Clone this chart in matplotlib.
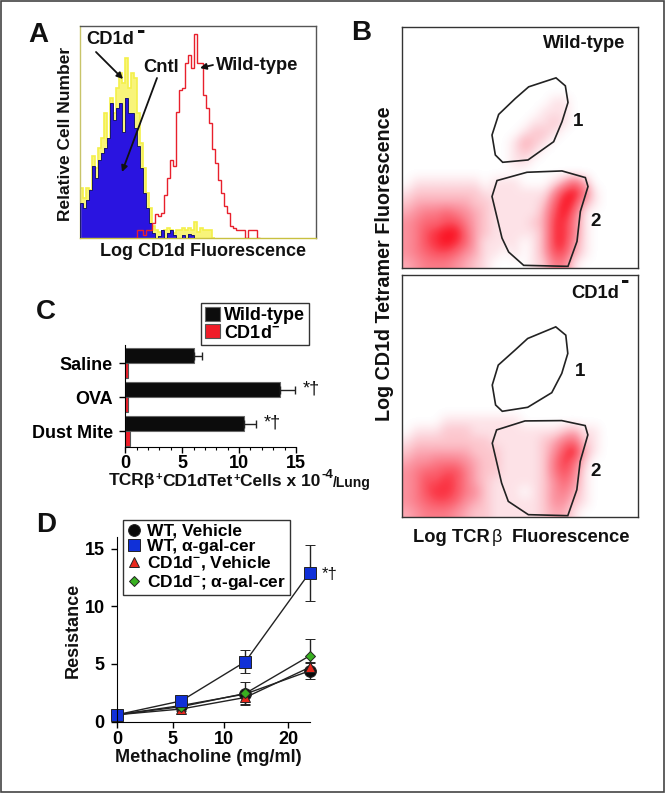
import numpy as np
import matplotlib
matplotlib.use('Agg')
import matplotlib.pyplot as plt
from matplotlib.colors import LinearSegmentedColormap
from matplotlib.lines import Line2D
from matplotlib.patches import Polygon, Rectangle

plt.rcParams['font.family'] = ['Liberation Sans', 'DejaVu Sans']
plt.rcParams['font.weight'] = 'bold'
plt.rcParams['mathtext.fontset'] = 'custom'
plt.rcParams['mathtext.rm'] = 'Liberation Sans:bold'
plt.rcParams['mathtext.default'] = 'rm'

W, H = 665, 794

#----------------------------------------------------------------------
#   Data
#----------------------------------------------------------------------

# panel A, counts per 3-channel bin
hist_yellow = [50, 40, 50, 48, 82, 70, 90, 100, 125, 95, 140, 125, 150, 165, 155, 180, 150, 165, 160, 125,
               95, 70, 45, 30, 12, 8, 6, 6, 8, 10, 8, 5, 8, 8, 10, 8, 10, 8, 16, 6, 10, 8, 8, 8, 0]
hist_blue = [35, 30, 38, 48, 72, 60, 78, 85, 90, 100, 135, 118, 130, 135, 106, 140, 125, 125, 110, 92,
             70, 45, 30, 15, 5, 0, 2, 8, 0, 5, 8, 3, 0, 0, 3, 0, 4, 3, 0]
hist_red = [0, 8, 8, 3, 8, 8, 15, 24, 22, 25, 43, 60, 78, 72, 126, 148, 150, 175, 183, 170, 204, 175, 175,
            143, 130, 115, 89, 75, 58, 45, 32, 25, 12, 10, 8, 8, 8, 0, 8, 8, 8, 0]
hist_red_start = 54

# panel B, dot density (0-9) on a 24 x 24 grid, top row first
dens_wt = ["000000000000000000000000",
           "000000000000000000000000",
           "000000000000000000000000",
           "000000000000000000000000",
           "000000000000000000000000",
           "000000000000000000000000",
           "000000000000000000000000",
           "000000000000000110000000",
           "000000000000001110000000",
           "000000000000011210000000",
           "000000000000122100000000",
           "000000000001321000000000",
           "000000000001210000000000",
           "000000000001100000000000",
           "000000000000000000000000",
           "011111110111000136300000",
           "122222221111111489610000",
           "233333322111112698310000",
           "345565432111113796100000",
           "456677532111123885100000",
           "457899632111113885100000",
           "457898631111013884100000",
           "456776431101013773100000",
           "345554321000012551000000"]
dens_ko = ["000000000000000000000000",
           "000000000000000000000000",
           "000000000000000000000000",
           "000000000000000000000000",
           "000000000000000000000000",
           "000000000000000000000000",
           "000000000000000000000000",
           "000000000000000000000000",
           "000000000000000000000000",
           "000000000000000000000000",
           "000000000000000000000000",
           "000000000000000000000000",
           "000000000000000000000000",
           "000000000000000000000000",
           "000011111111000000000000",
           "011122211111111123110000",
           "122222222111112356210000",
           "233333322211112479310000",
           "344555432211112586200000",
           "456677532211112575100000",
           "457787532111112464100000",
           "457887542111012453100000",
           "456776432111112442100000",
           "345554322111112331000000"]

# panel B gates
gate1_wt = [(632, 188), (660, 212), (668, 262), (650, 320), (625, 380), (548, 435),
            (472, 442), (450, 420), (440, 360), (460, 298), (510, 250), (550, 215)]
gate2_wt = [(455, 497), (545, 472), (650, 468), (720, 488), (728, 515), (705, 590),
            (695, 680), (668, 755), (535, 752), (490, 712), (470, 670), (440, 545)]
gate1_ko = [(632, 170), (662, 195), (668, 250), (650, 310), (620, 368), (548, 412),
            (472, 424), (452, 405), (442, 345), (460, 285), (510, 240), (548, 205)]
gate2_ko = [(455, 480), (540, 453), (650, 452), (720, 467), (728, 495), (705, 575),
            (695, 660), (668, 738), (550, 735), (490, 695), (470, 640), (442, 520)]

# panel C
treatments = ['Saline', 'OVA', 'Dust Mite']
cells_wt = [6.0, 13.6, 10.4]
cells_wt_err = [0.7, 1.3, 1.1]
cells_ko = [0.2, 0.2, 0.4]

# panel D
dose_pos = [0, 1, 2, 3]
dose_tick_pos = [0, 0.865, 1.67, 2.67]
dose_ticks = ['0', '5', '10', '20']
wt_veh = [0.6, 1.4, 2.4, 4.4]
wt_veh_err = [0.1, 0.2, 0.3, 0.7]
wt_gal = [0.6, 1.8, 5.2, 12.9]
wt_gal_err = [0.1, 0.2, 1.0, 2.45]
ko_veh = [0.6, 1.1, 2.1, 4.7]
ko_veh_err = [0.1, 0.2, 0.6, 0.5]
ko_gal = [0.6, 1.3, 2.45, 5.7]
ko_gal_err = [0.1, 0.2, 1.0, 1.5]


def axes_px(fig, left, top, right, bottom):
    return fig.add_axes([left / W, 1 - bottom / H, (right - left) / W, (bottom - top) / H])


fig = plt.figure(figsize=(W / 100, H / 100), dpi=100, facecolor='white')

#----------------------------------------------------------------------
#   A
#----------------------------------------------------------------------

axA = axes_px(fig, 80, 26, 316, 238)
x_y = np.arange(len(hist_yellow) + 1) * 3
x_b = np.arange(len(hist_blue) + 1) * 3
x_r = hist_red_start + np.arange(len(hist_red) + 1) * 3
axA.stairs(hist_yellow, x_y, color='#f8f47a', fill=True, zorder=1)
axA.stairs(hist_yellow, x_y, color='#f4f04a', lw=1.2, zorder=1)
axA.stairs(hist_blue, x_b, color='#1a1a6a', lw=0.7, fill=False, zorder=3)
axA.stairs(hist_blue, x_b, color='#2a14e0', fill=True, zorder=2)
axA.stairs(hist_red, x_r, color='#e8202c', lw=1.0, zorder=4)
axA.set_xlim(0, 236)
axA.set_ylim(0, 212)
axA.set_xticks([])
axA.set_yticks([])
for s in axA.spines.values():
    s.set_color('#555555')
    s.set_linewidth(1)
axA.spines['left'].set_color('#c8c46a')
axA.spines['bottom'].set_color('#c8c040')

#----------------------------------------------------------------------
#   B
#----------------------------------------------------------------------

dots = LinearSegmentedColormap.from_list('dots', [(0, '#ffffff'), (0.12, '#fde0e5'), (0.4, '#fb9aa6'),
                                                  (0.75, '#fa5462'), (1, '#fb1020')])

for box, dens, gates, lim in [((402, 27, 638, 268), dens_wt, (gate1_wt, gate2_wt), (170, 878, 760, 35)),
                              ((402, 275, 638, 517), dens_ko, (gate1_ko, gate2_ko), (172, 878, 742, 14))]:
    ax = axes_px(fig, *box)
    grid = np.array([[int(c) for c in row] for row in dens])
    ax.imshow(grid, cmap=dots, vmin=0, vmax=9, extent=(lim[0], lim[1], lim[2], lim[3]),
              aspect='auto', interpolation='bicubic')
    for g in gates:
        ax.add_patch(Polygon(g, closed=True, fill=False, ec='#222222', lw=1.2))
    ax.set_xlim(lim[0], lim[1])
    ax.set_ylim(lim[2], lim[3])
    ax.set_xticks([])
    ax.set_yticks([])
    for s in ax.spines.values():
        s.set_color('#333333')
        s.set_linewidth(1)

#----------------------------------------------------------------------
#   C
#----------------------------------------------------------------------

axC = axes_px(fig, 125.3, 345, 296, 447)
ypos = np.arange(len(treatments))
axC.barh(ypos - 0.22, cells_wt, 0.44, color='#0c0c0c', edgecolor='#666666', lw=0.8, label='Wild-type',
         xerr=[np.zeros(3), cells_wt_err], error_kw=dict(ecolor='#222222', lw=1, capsize=3))
axC.barh(ypos + 0.22, cells_ko, 0.44, color='#f01c28', edgecolor='#555555', lw=0.8, label='CD1d$^{-}$')
axC.set_xlim(0, 15)
axC.set_ylim(2.47, -0.53)
axC.set_yticks(ypos)
axC.set_yticklabels(treatments, fontsize=13)
axC.set_xticks([0, 5, 10, 15])
axC.set_xticks(np.arange(16), minor=True)
axC.tick_params(axis='x', labelsize=13, length=4, width=1, pad=2)
axC.tick_params(axis='x', which='minor', length=2, width=0.8)
axC.tick_params(axis='y', length=4, width=1, pad=5)
axC.spines['top'].set_visible(False)
axC.spines['right'].set_visible(False)
axC.legend(loc='upper left', bbox_to_anchor=(201 / W, 1 - 303 / H), bbox_transform=fig.transFigure,
           fontsize=13, fancybox=False, edgecolor='#333333', framealpha=1, borderaxespad=0, borderpad=0.2,
           handlelength=0.85, handleheight=0.85, handletextpad=0.25, labelspacing=0.0)

#----------------------------------------------------------------------
#   D
#----------------------------------------------------------------------

axD = axes_px(fig, 117, 537, 309.5, 721.7)
series = [(wt_veh, wt_veh_err, 'o', '#0a0a0a', 8.5, 'WT, Vehicle'),
          (ko_veh, ko_veh_err, '^', '#e8281c', 7.5, 'CD1d$^{-}$, Vehicle'),
          (ko_gal, ko_gal_err, 'D', '#38b020', 5.5, 'CD1d$^{-}$; α-gal-cer'),
          (wt_gal, wt_gal_err, 's', '#1030d8', 8.5, 'WT, α-gal-cer')]
handles = {}
for vals, errs, mk, col, ms, lab in series:
    axD.errorbar(dose_pos, vals, yerr=errs, color='#222222', lw=1, capsize=3.5, marker=mk,
                 mfc=col, mec='#222222', ms=ms, mew=0.7, clip_on=False)
    handles[lab] = Line2D([], [], ls='none', marker=mk, mfc=col, mec='#222222', ms=ms, mew=0.7)
axD.set_xlim(0, 3)
axD.set_ylim(0, 16)
axD.set_xticks(dose_tick_pos)
axD.set_xticklabels(dose_ticks)
axD.set_yticks([0, 5, 10, 15])
axD.tick_params(labelsize=13, length=4, width=1, pad=3)
axD.tick_params(axis='y', pad=5)
axD.spines['top'].set_visible(False)
axD.spines['right'].set_visible(False)
order = ['WT, Vehicle', 'WT, α-gal-cer', 'CD1d$^{-}$, Vehicle', 'CD1d$^{-}$; α-gal-cer']
axD.legend([handles[k] for k in order], order, loc='upper left', bbox_to_anchor=(123 / W, 1 - 520 / H),
           bbox_transform=fig.transFigure, fontsize=12.5, fancybox=False, edgecolor='#333333', framealpha=1,
           borderaxespad=0, borderpad=0.2, handlelength=0.9, handletextpad=0.3, labelspacing=0.02)

#----------------------------------------------------------------------
#   Everything else goes on one overlay in pixel coordinates
#----------------------------------------------------------------------

ov = fig.add_axes([0, 0, 1, 1], zorder=10)
ov.set_xlim(0, W)
ov.set_ylim(H, 0)
ov.axis('off')
ov.patch.set_alpha(0)
ov.add_patch(Rectangle((1, 1), W - 2.5, H - 3, fill=False, ec='#444444', lw=1.2))


def label(x, y, s, size=13.2, ha='left', rot=0, weight='bold'):
    ov.text(x, y, s, fontsize=size, ha=ha, va='center', rotation=rot, weight=weight, color='#111111')


def arrow(x0, y0, x1, y1):
    ov.annotate('', xy=(x1, y1), xytext=(x0, y0),
                arrowprops=dict(arrowstyle='-|>', color='#111111', lw=1.3, mutation_scale=9, shrinkA=0, shrinkB=0))


for x, y, s in [(28, 35, 'A'), (351, 33, 'B'), (36, 312, 'C'), (36, 525, 'D')]:
    label(x, y, s, size=20)

label(86, 40, 'CD1d')
label(137, 31, '-', 18)
label(143, 67, 'Cntl')
label(216, 65, 'Wild-type')
arrow(96, 52, 123, 79)
arrow(157, 78, 122, 172)
arrow(213, 65, 200, 68)
label(66, 134, 'Relative Cell Number', 12.5, ha='center', rot=90)
label(203, 252, 'Log CD1d Fluorescence', 13, ha='center')

label(543, 44, 'Wild-type')
label(578, 122, '1', 13.5, ha='center')
label(596, 222, '2', 13.5, ha='center')
label(571, 293, 'CD1d')
label(621, 281, '-', 18)
label(580, 371, '1', 13.5, ha='center')
label(596, 472, '2', 13.5, ha='center')
label(384, 263.5, 'Log CD1d Tetramer Fluorescence', 14.2, ha='center', rot=90)
label(413, 537, 'Log TCR')
label(492, 537, 'β', 13, weight='normal')
label(512, 537, 'Fluorescence')

# x label of C, in pieces so the raised signs can sit tight
label(109, 481, 'TCRβ', 12.5)
label(155, 477, '+', 8)
label(162, 481, 'CD1dTet', 12.5)
label(233, 478, '+', 8)
label(240, 481, 'Cells x 10', 12.5)
label(322, 475, '-4', 9.5)
label(333, 483, '/Lung', 10)
label(303, 389, '*†', 13, weight='normal')
label(264, 423, '*†', 13, weight='normal')

label(73, 630, 'Resistance', 13, ha='center', rot=90)
label(208, 757, 'Methacholine (mg/ml)', 13.1, ha='center')
label(322, 574, '*†', 12, weight='normal')

fig.savefig('out.png', dpi=100)
